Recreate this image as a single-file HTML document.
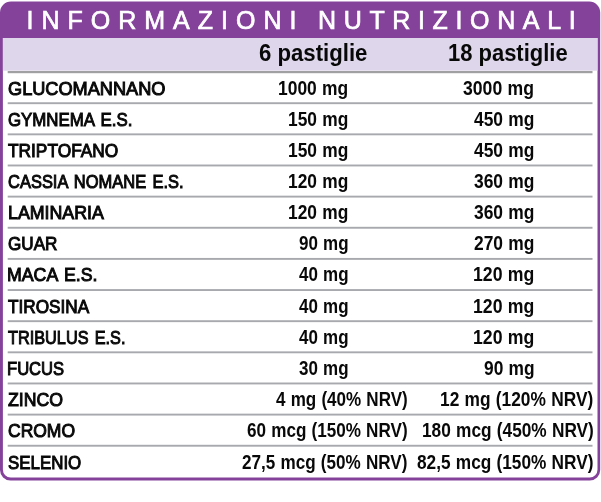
<!DOCTYPE html><html lang="it"><head><meta charset="utf-8"><title>Informazioni nutrizionali</title><style>html,body{margin:0;padding:0;background:#fff}
body{width:601px;height:502px;position:relative;overflow:hidden;font-family:"Liberation Sans",sans-serif}
.t{position:absolute;white-space:nowrap;line-height:1;font-weight:normal;color:#080808;-webkit-text-stroke:0.9px #080808;transform-origin:0 0}
.h{position:absolute;white-space:nowrap;line-height:1;color:#fff;-webkit-text-stroke:0.7px #fff}
</style></head><body>
<svg width="601" height="502" viewBox="0 0 601 502" style="position:absolute;left:0;top:0"><path d="M11 1.5H589.2A11 11 0 0 1 600.2 12.5V470.0A10.5 10.5 0 0 1 589.7 480.5H10.5A10.5 10.5 0 0 1 0 470.0V12.5A11 11 0 0 1 11 1.5Z" fill="#84429b"/><path d="M2.9 38.0H597.5V469.8A7.8 7.8 0 0 1 589.7 477.6H10.7A7.8 7.8 0 0 1 2.9 469.8Z" fill="#fff"/><rect x="2.9" y="38.0" width="594.6" height="32.7" fill="#ded6ea"/><rect x="7.7" y="71" width="584.8" height="2.2" fill="#a0a0a2"/><rect x="7.7" y="102.25" width="584.8" height="1.9" fill="#a7a9ae"/><rect x="7.7" y="133.39" width="584.8" height="1.9" fill="#a7a9ae"/><rect x="7.7" y="164.53" width="584.8" height="1.9" fill="#a7a9ae"/><rect x="7.7" y="195.67" width="584.8" height="1.9" fill="#a7a9ae"/><rect x="7.7" y="226.81" width="584.8" height="1.9" fill="#a7a9ae"/><rect x="7.7" y="257.95" width="584.8" height="1.9" fill="#a7a9ae"/><rect x="7.7" y="289.09" width="584.8" height="1.9" fill="#a7a9ae"/><rect x="7.7" y="320.23" width="584.8" height="1.9" fill="#a7a9ae"/><rect x="7.7" y="351.37" width="584.8" height="1.9" fill="#a7a9ae"/><rect x="7.7" y="382.51" width="584.8" height="1.9" fill="#a7a9ae"/><rect x="7.7" y="413.65" width="584.8" height="1.9" fill="#a7a9ae"/><rect x="7.7" y="444.79" width="584.8" height="1.9" fill="#a7a9ae"/></svg>
<div class="h" style="left:26.50px;top:8.00px;font-size:25px;letter-spacing:8.00px">INFORMAZIONI</div>
<div class="h" style="left:318.00px;top:8.00px;font-size:25px;letter-spacing:7.64px">NUTRIZIONALI</div>
<div class="t" style="left:8.00px;top:79.00px;font-size:19px;word-spacing:2.0px;-webkit-text-stroke-width:1.0px;font-weight:normal;transform:scaleX(0.9558)">GLUCOMANNANO</div>
<div class="t" style="left:278.41px;top:79.00px;font-size:19.5px;word-spacing:0.5px;-webkit-text-stroke-width:0px;font-weight:bold;transform:scaleX(0.8935)">1000 mg</div>
<div class="t" style="left:462.80px;top:79.00px;font-size:19.5px;word-spacing:0.5px;-webkit-text-stroke-width:0px;font-weight:bold;transform:scaleX(0.9038)">3000 mg</div>
<div class="t" style="left:8.00px;top:110.00px;font-size:19px;word-spacing:2.0px;-webkit-text-stroke-width:1.0px;font-weight:normal;transform:scaleX(0.8863)">GYMNEMA E.S.</div>
<div class="t" style="left:288.41px;top:110.00px;font-size:19.5px;word-spacing:0.5px;-webkit-text-stroke-width:0px;font-weight:bold;transform:scaleX(0.8909)">150 mg</div>
<div class="t" style="left:473.50px;top:110.00px;font-size:19.5px;word-spacing:0.5px;-webkit-text-stroke-width:0px;font-weight:bold;transform:scaleX(0.8925)">450 mg</div>
<div class="t" style="left:8.00px;top:141.00px;font-size:19px;word-spacing:2.0px;-webkit-text-stroke-width:1.0px;font-weight:normal;transform:scaleX(0.9107)">TRIPTOFANO</div>
<div class="t" style="left:288.41px;top:141.00px;font-size:19.5px;word-spacing:0.5px;-webkit-text-stroke-width:0px;font-weight:bold;transform:scaleX(0.8909)">150 mg</div>
<div class="t" style="left:473.50px;top:141.00px;font-size:19.5px;word-spacing:0.5px;-webkit-text-stroke-width:0px;font-weight:bold;transform:scaleX(0.8925)">450 mg</div>
<div class="t" style="left:8.00px;top:172.00px;font-size:19px;word-spacing:2.0px;-webkit-text-stroke-width:1.0px;font-weight:normal;transform:scaleX(0.8673)">CASSIA NOMANE E.S.</div>
<div class="t" style="left:288.41px;top:172.00px;font-size:19.5px;word-spacing:0.5px;-webkit-text-stroke-width:0px;font-weight:bold;transform:scaleX(0.8909)">120 mg</div>
<div class="t" style="left:473.50px;top:172.00px;font-size:19.5px;word-spacing:0.5px;-webkit-text-stroke-width:0px;font-weight:bold;transform:scaleX(0.8925)">360 mg</div>
<div class="t" style="left:7.76px;top:203.00px;font-size:19px;word-spacing:2.0px;-webkit-text-stroke-width:1.0px;font-weight:normal;transform:scaleX(0.9363)">LAMINARIA</div>
<div class="t" style="left:288.41px;top:203.00px;font-size:19.5px;word-spacing:0.5px;-webkit-text-stroke-width:0px;font-weight:bold;transform:scaleX(0.8909)">120 mg</div>
<div class="t" style="left:473.50px;top:203.00px;font-size:19.5px;word-spacing:0.5px;-webkit-text-stroke-width:0px;font-weight:bold;transform:scaleX(0.8925)">360 mg</div>
<div class="t" style="left:8.00px;top:234.00px;font-size:19px;word-spacing:2.0px;-webkit-text-stroke-width:1.0px;font-weight:normal;transform:scaleX(0.9000)">GUAR</div>
<div class="t" style="left:299.30px;top:234.00px;font-size:19.5px;word-spacing:0.5px;-webkit-text-stroke-width:0px;font-weight:bold;transform:scaleX(0.8714)">90 mg</div>
<div class="t" style="left:473.50px;top:234.00px;font-size:19.5px;word-spacing:0.5px;-webkit-text-stroke-width:0px;font-weight:bold;transform:scaleX(0.8925)">270 mg</div>
<div class="t" style="left:7.37px;top:265.00px;font-size:19px;word-spacing:2.0px;-webkit-text-stroke-width:1.0px;font-weight:normal;transform:scaleX(0.9326)">MACA E.S.</div>
<div class="t" style="left:299.30px;top:265.00px;font-size:19.5px;word-spacing:0.5px;-webkit-text-stroke-width:0px;font-weight:bold;transform:scaleX(0.8714)">40 mg</div>
<div class="t" style="left:472.59px;top:265.00px;font-size:19.5px;word-spacing:0.5px;-webkit-text-stroke-width:0px;font-weight:bold;transform:scaleX(0.9061)">120 mg</div>
<div class="t" style="left:8.00px;top:297.00px;font-size:19px;word-spacing:2.0px;-webkit-text-stroke-width:1.0px;font-weight:normal;transform:scaleX(0.9056)">TIROSINA</div>
<div class="t" style="left:299.30px;top:297.00px;font-size:19.5px;word-spacing:0.5px;-webkit-text-stroke-width:0px;font-weight:bold;transform:scaleX(0.8714)">40 mg</div>
<div class="t" style="left:472.59px;top:297.00px;font-size:19.5px;word-spacing:0.5px;-webkit-text-stroke-width:0px;font-weight:bold;transform:scaleX(0.9061)">120 mg</div>
<div class="t" style="left:8.00px;top:328.00px;font-size:19px;word-spacing:2.0px;-webkit-text-stroke-width:1.0px;font-weight:normal;transform:scaleX(0.8566)">TRIBULUS E.S.</div>
<div class="t" style="left:299.30px;top:328.00px;font-size:19.5px;word-spacing:0.5px;-webkit-text-stroke-width:0px;font-weight:bold;transform:scaleX(0.8714)">40 mg</div>
<div class="t" style="left:472.59px;top:328.00px;font-size:19.5px;word-spacing:0.5px;-webkit-text-stroke-width:0px;font-weight:bold;transform:scaleX(0.9061)">120 mg</div>
<div class="t" style="left:7.43px;top:359.00px;font-size:19px;word-spacing:2.0px;-webkit-text-stroke-width:1.0px;font-weight:normal;transform:scaleX(0.8734)">FUCUS</div>
<div class="t" style="left:299.30px;top:359.00px;font-size:19.5px;word-spacing:0.5px;-webkit-text-stroke-width:0px;font-weight:bold;transform:scaleX(0.8714)">30 mg</div>
<div class="t" style="left:483.50px;top:359.00px;font-size:19.5px;word-spacing:0.5px;-webkit-text-stroke-width:0px;font-weight:bold;transform:scaleX(0.8893)">90 mg</div>
<div class="t" style="left:8.00px;top:390.00px;font-size:19px;word-spacing:2.0px;-webkit-text-stroke-width:1.0px;font-weight:normal;transform:scaleX(0.9305)">ZINCO</div>
<div class="t" style="left:276.00px;top:390.00px;font-size:19.5px;word-spacing:0.5px;-webkit-text-stroke-width:0px;font-weight:bold;transform:scaleX(0.8740)">4 mg (40% NRV)</div>
<div class="t" style="left:439.81px;top:390.00px;font-size:19.5px;word-spacing:0.5px;-webkit-text-stroke-width:0px;font-weight:bold;transform:scaleX(0.8889)">12 mg (120% NRV)</div>
<div class="t" style="left:8.00px;top:421.00px;font-size:19px;word-spacing:2.0px;-webkit-text-stroke-width:1.0px;font-weight:normal;transform:scaleX(0.9205)">CROMO</div>
<div class="t" style="left:246.70px;top:421.00px;font-size:19.5px;word-spacing:0.5px;-webkit-text-stroke-width:0px;font-weight:bold;transform:scaleX(0.8765)">60 mcg (150% NRV)</div>
<div class="t" style="left:421.81px;top:421.00px;font-size:19.5px;word-spacing:0.5px;-webkit-text-stroke-width:0px;font-weight:bold;transform:scaleX(0.8854)">180 mcg (450% NRV)</div>
<div class="t" style="left:8.00px;top:453.00px;font-size:19px;word-spacing:2.0px;-webkit-text-stroke-width:1.0px;font-weight:normal;transform:scaleX(0.8890)">SELENIO</div>
<div class="t" style="left:242.30px;top:453.00px;font-size:19.5px;word-spacing:0.5px;-webkit-text-stroke-width:0px;font-weight:bold;transform:scaleX(0.8766)">27,5 mcg (50% NRV)</div>
<div class="t" style="left:416.70px;top:453.00px;font-size:19.5px;word-spacing:0.5px;-webkit-text-stroke-width:0px;font-weight:bold;transform:scaleX(0.8844)">82,5 mcg (150% NRV)</div>
<div class="t" style="left:259.04px;top:42.00px;font-size:23px;word-spacing:0px;-webkit-text-stroke-width:0px;font-weight:bold;transform:scaleX(0.9640)">6 pastiglie</div>
<div class="t" style="left:448.35px;top:42.00px;font-size:23px;word-spacing:0px;-webkit-text-stroke-width:0px;font-weight:bold;transform:scaleX(0.9548)">18 pastiglie</div>
</body></html>
